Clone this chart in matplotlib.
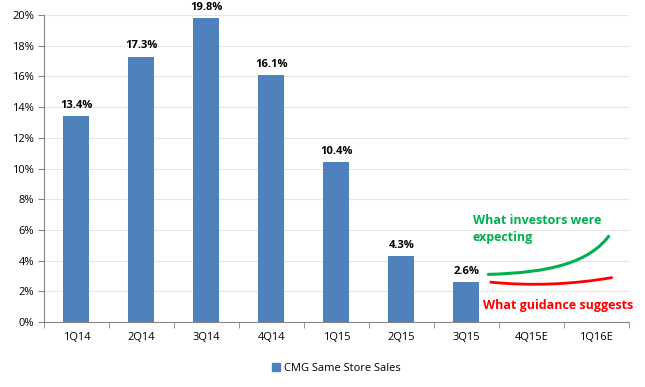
import matplotlib.pyplot as plt
from matplotlib.path import Path
from matplotlib.patches import PathPatch, Patch

# data
quarters = ['1Q14', '2Q14', '3Q14', '4Q14', '1Q15', '2Q15', '3Q15', '4Q15E', '1Q16E']
sales = [13.4, 17.3, 19.8, 16.1, 10.4, 4.3, 2.6]
# hand drawn arrows in category / percent units
green_curve = [(6.32, 3.1), (7.3, 3.2), (7.9, 3.9), (8.2, 5.65)]
red_curve = [(6.36, 2.6), (7.3, 2.2), (8.25, 2.9)]

plt.rcParams['font.family'] = ['Open Sans', 'DejaVu Sans']

fig = plt.figure(figsize=(6.45, 3.87), dpi=100)
ax = fig.add_axes([0.068, 0.168, 0.907, 0.793])

blue = '#4F81BD'
x = list(range(len(sales)))
ax.bar(x, sales, width=0.4, color=blue, zorder=2, label='CMG Same Store Sales')
for xi, v in zip(x, sales):
    ax.text(xi, v + 0.35, f'{v:.1f}%', ha='center', va='bottom',
            fontsize=8, fontweight='bold', color='black')

ax.set_xlim(-0.5, len(quarters) - 0.5)
ax.set_ylim(0, 20)
ax.set_yticks(range(0, 21, 2))
ax.set_yticklabels([f'{t}%' for t in range(0, 21, 2)], fontsize=8)
ax.set_xticks(range(len(quarters)))
ax.set_xticklabels(quarters, fontsize=8)
ax.set_xticks([i - 0.5 for i in range(len(quarters) + 1)], minor=True)
ax.tick_params(axis='x', which='major', length=0, pad=7)
ax.tick_params(axis='x', which='minor', length=4, color='#868686')
ax.tick_params(axis='y', length=4, color='#868686', pad=3)
ax.grid(axis='y', color='#e6e6e6', linewidth=0.8, zorder=0)
ax.set_axisbelow(True)
for s in ['top', 'right']:
    ax.spines[s].set_visible(False)
for s in ['left', 'bottom']:
    ax.spines[s].set_color('#868686')

ax.add_patch(PathPatch(Path(green_curve, [Path.MOVETO] + [Path.CURVE4] * 3),
                       fill=False, edgecolor='#00B050', linewidth=2.2, zorder=3,
                       clip_on=False))
ax.add_patch(PathPatch(Path(red_curve, [Path.MOVETO] + [Path.CURVE3] * 2),
                       fill=False, edgecolor='#FF0000', linewidth=2.0, zorder=3,
                       clip_on=False))

ax.text(6.1, 7.05, 'What investors were\nexpecting', color='#00B050', fontsize=9,
        fontweight='bold', ha='left', va='top', linespacing=1.45)
ax.text(6.26, 1.05, 'What guidance suggests', color='#FF0000', fontsize=9,
        fontweight='bold', ha='left', va='center')

ax.legend(handles=[Patch(color=blue, label='CMG Same Store Sales')],
          loc='upper center', bbox_to_anchor=(0.5, -0.1), frameon=False,
          fontsize=8, handlelength=0.7, handleheight=0.7, handletextpad=0.4)

fig.savefig('out.png', dpi=100)
